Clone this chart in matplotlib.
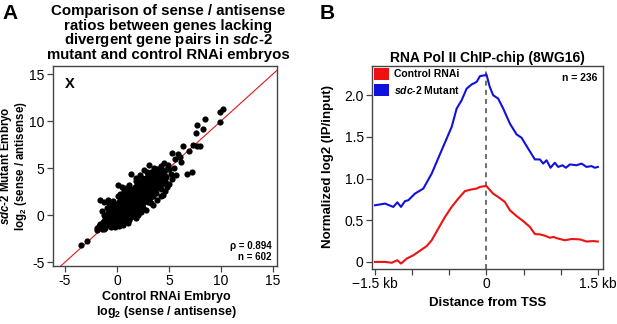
import matplotlib
matplotlib.use('Agg')
import matplotlib.pyplot as plt
from matplotlib.patches import Patch

plt.rcParams['font.family'] = ['Liberation Sans', 'DejaVu Sans']
plt.rcParams['mathtext.fontset'] = 'custom'
plt.rcParams['mathtext.rm'] = 'Liberation Sans:bold'
plt.rcParams['mathtext.it'] = 'Liberation Sans:bold:italic'
plt.rcParams['mathtext.bf'] = 'Liberation Sans:bold'

# panel A: log2(sense/antisense), control RNAi (x) vs sdc-2 mutant (y)
core_points = [
    (-1.1, -1.35), (-0.6, -1.25),
    (-1.5, -1.0), (-1.0, -1.05), (-0.7, -0.95), (-0.3, -1.0), (0.2, -1.1),
    (-1.3, -0.75), (-0.9, -0.85), (-0.5, -0.8), (-0.1, -0.7), (0.4, -0.85),
    (-1.2, -0.6), (-0.8, -0.55), (-0.4, -0.65), (0.0, -0.55), (0.3, -0.6), (0.8, -0.5),
    (-1.0, -0.4), (-0.6, -0.35), (-0.2, -0.45), (0.1, -0.35), (0.5, -0.4), (0.9, -0.3),
    (-1.1, -0.2), (-0.7, -0.15), (-0.3, -0.25), (0.0, -0.15), (0.3, -0.2), (0.6, -0.1), (1.0, -0.2), (1.4, -0.15),
    (-1.2, 0.0), (-0.8, 0.05), (-0.4, -0.05), (-0.1, 0.1), (0.2, 0.0), (0.5, 0.05), (0.8, -0.05), (1.1, 0.1), (1.5, 0.0),
    (-0.9, 0.2), (-0.5, 0.25), (-0.2, 0.15), (0.1, 0.3), (0.4, 0.2), (0.7, 0.25), (1.0, 0.15), (1.3, 0.3), (1.7, 0.2),
    (-0.7, 0.4), (-0.3, 0.45), (0.0, 0.35), (0.3, 0.5), (0.6, 0.4), (0.9, 0.45), (1.2, 0.35), (1.6, 0.5), (2.0, 0.4),
    (-0.6, 0.6), (-0.2, 0.65), (0.2, 0.55), (0.5, 0.7), (0.8, 0.6), (1.1, 0.65), (1.4, 0.55), (1.8, 0.7),
    (-0.4, 0.8), (0.0, 0.85), (0.3, 0.75), (0.6, 0.9), (0.9, 0.8), (1.2, 0.85), (1.5, 0.75), (1.9, 0.9), (2.3, 0.8),
    (-0.5, 1.0), (-0.1, 1.05), (0.3, 0.95), (0.7, 1.1), (1.0, 1.0), (1.3, 1.05), (1.6, 0.95), (2.0, 1.1), (2.4, 1.0),
    (0.0, 1.2), (0.4, 1.25), (0.8, 1.15), (1.1, 1.3), (1.4, 1.2), (1.7, 1.25), (2.1, 1.15), (2.5, 1.3),
    (0.2, 1.4), (0.5, 1.45), (0.9, 1.35), (1.2, 1.5), (1.5, 1.4), (1.8, 1.45), (2.2, 1.35), (2.6, 1.5), (3.0, 1.4),
    (0.3, 1.6), (0.7, 1.65), (1.0, 1.55), (1.3, 1.7), (1.6, 1.6), (1.9, 1.65), (2.3, 1.55), (2.7, 1.7),
    (0.5, 1.8), (0.9, 1.85), (1.2, 1.75), (1.5, 1.9), (1.8, 1.8), (2.1, 1.85), (2.4, 1.75), (2.8, 1.9), (3.2, 1.8),
    (0.6, 2.0), (1.0, 2.05), (1.4, 1.95), (1.7, 2.1), (2.0, 2.0), (2.3, 2.05), (2.6, 1.95), (3.0, 2.1), (3.5, 2.0),
    (0.9, 2.2), (1.2, 2.25), (1.6, 2.15), (1.9, 2.3), (2.2, 2.2), (2.5, 2.25), (2.8, 2.15), (3.2, 2.3),
    (1.0, 2.4), (1.4, 2.45), (1.8, 2.35), (2.1, 2.5), (2.4, 2.4), (2.7, 2.45), (3.0, 2.35), (3.4, 2.5), (3.8, 2.4),
    (1.3, 2.6), (1.6, 2.65), (2.0, 2.55), (2.3, 2.7), (2.6, 2.6), (2.9, 2.65), (3.2, 2.55), (3.6, 2.7),
    (1.4, 2.8), (1.8, 2.85), (2.2, 2.75), (2.5, 2.9), (2.8, 2.8), (3.1, 2.85), (3.4, 2.75), (3.8, 2.9), (4.2, 2.8),
    (1.7, 3.0), (2.0, 3.05), (2.4, 2.95), (2.7, 3.1), (3.0, 3.0), (3.3, 3.05), (3.6, 2.95), (4.0, 3.1),
    (1.9, 3.2), (2.3, 3.25), (2.6, 3.15), (2.9, 3.3), (3.2, 3.2), (3.5, 3.25), (3.9, 3.15), (4.3, 3.3),
    (2.1, 3.4), (2.5, 3.45), (2.8, 3.35), (3.1, 3.5), (3.4, 3.4), (3.8, 3.45), (4.2, 3.35),
    (2.3, 3.6), (2.7, 3.65), (3.0, 3.55), (3.3, 3.7), (3.7, 3.6), (4.1, 3.65), (4.5, 3.55),
    (2.6, 3.8), (3.0, 3.85), (3.3, 3.75), (3.6, 3.9), (4.0, 3.8), (4.4, 3.85),
    (2.8, 4.0), (3.2, 4.05), (3.5, 3.95), (3.9, 4.1), (4.3, 4.0), (4.7, 4.05),
    (3.0, 4.3), (3.4, 4.25), (3.8, 4.35), (4.2, 4.3), (4.6, 4.2),
    (3.3, 4.6), (3.7, 4.55), (4.1, 4.65), (4.5, 4.6),
    (3.8, 4.9), (4.3, 4.85), (4.8, 4.95),
]
edge_points = [
    (-1.7, -1.2), (-1.4, -1.5), (-1.2, -1.5), (-0.2, -1.3), (0.6, -1.0), (1.2, -0.5),
    (1.8, -0.3), (2.3, 0.3), (2.8, 0.6), (3.5, 1.1), (3.9, 1.6), (4.2, 2.0),
    (4.6, 2.6), (5.0, 3.3), (5.2, 4.4), (5.5, 5.0), (4.9, 5.3), (4.2, 5.2),
    (3.6, 5.0), (2.9, 4.6), (2.4, 4.0), (1.8, 3.6), (1.2, 3.2), (0.7, 2.6),
    (0.1, 2.0), (-0.4, 1.5), (-1.0, 0.8), (-0.9, 1.6), (0.5, 3.0), (1.8, 4.0),
]
sparse_points = [
    (-3.5, -3.2), (-2.9, -2.75), (-1.9, -1.6), (-1.9, -1.35), (-1.6, -0.9), (-1.4, 0.5),
    (-1.25, 1.4), (-1.6, 1.65), (-0.8, 1.2), (0.1, 3.2), (1.4, 4.4), (1.1, -0.85),
    (0.3, 2.3), (0.9, 2.9), (2.2, 4.3), (2.6, 4.8), (3.1, 5.3), (4.0, 4.9), (4.5, 5.6),
    (5.0, 4.9), (5.3, 6.6), (5.9, 6.55), (5.6, 6.0), (6.1, 6.2), (6.2, 5.7), (5.3, 3.9),
    (5.7, 4.3), (4.6, 3.6), (6.7, 4.4), (7.2, 4.6), (6.4, 7.35), (6.95, 6.85), (7.3, 7.5),
    (8.0, 7.35), (7.7, 7.35), (7.6, 8.7), (7.7, 9.55), (8.5, 10.2), (8.3, 9.2),
    (9.9, 9.95), (9.9, 11.0), (10.2, 11.3), (2.0, 0.0), (2.5, 0.8), (3.3, 1.3),
    (4.4, 2.2), (4.8, 3.0),
]
rho_text = 'ρ = 0.894'
n_scatter_text = 'n = 602'
scatter_ticks = [-5, 0, 5, 10, 15]
title_a_lines = ['Comparison of sense / antisense',
                 'ratios between genes lacking',
                 'divergent gene pairs in $\\mathit{sdc}$-$\\mathit{2}$',
                 'mutant and control RNAi embryos']

# panel B: Pol II ChIP-chip profiles around the TSS (bp, log2 IP/input)
control_pos = [-1500, -1365, -1275, -1200, -1150, -1073, -984, -894, -804, -737,
               -648, -558, -468, -379, -289, -199, -132, -87, -20, 0,
               89, 158, 248, 316, 406, 495, 585, 652, 720, 787,
               854, 899, 966, 1057, 1147, 1260, 1348, 1437, 1500]
control_vals = [0.0, 0.0, -0.01, 0.02, -0.02, 0.04, 0.08, 0.135, 0.19, 0.26,
                0.40, 0.54, 0.66, 0.76, 0.85, 0.87, 0.88, 0.90, 0.91, 0.91,
                0.82, 0.78, 0.72, 0.62, 0.55, 0.49, 0.42, 0.335, 0.33, 0.315,
                0.29, 0.30, 0.28, 0.26, 0.275, 0.27, 0.245, 0.25, 0.245]
mutant_pos = [-1500, -1365, -1254, -1200, -1150, -1096, -1052, -962, -850, -737,
              -603, -468, -401, -334, -266, -199, -132, -87, -20, 0,
              45, 91, 158, 226, 316, 406, 473, 562, 652, 720,
              764, 810, 863, 921, 966, 1025, 1070, 1124, 1213, 1281,
              1348, 1415, 1460, 1500]
mutant_vals = [0.68, 0.70, 0.66, 0.715, 0.66, 0.73, 0.74, 0.82, 0.88, 1.06,
               1.34, 1.62, 1.84, 1.94, 2.08, 2.13, 2.16, 2.23, 2.24, 2.25,
               2.10, 2.00, 1.96, 1.84, 1.66, 1.53, 1.49, 1.36, 1.23, 1.23,
               1.18, 1.22, 1.13, 1.19, 1.14, 1.16, 1.13, 1.17, 1.16, 1.18,
               1.14, 1.15, 1.13, 1.14]
profile_xticks = [-1500, -1000, -500, 0, 500, 1000, 1500]
profile_xlabels = ['\u22121.5 kb', '', '', '0', '', '', '1.5 kb']
profile_yticks = [0, 0.5, 1.0, 1.5, 2.0]
profile_ylabels = ['0', '0.5', '1.0', '1.5', '2.0']

SPINE = '#444444'
W, H = 617, 324


def style_axes(ax):
    for sp in ax.spines.values():
        sp.set_color(SPINE)
        sp.set_linewidth(1.0)
    ax.tick_params(direction='out', length=4, width=0.9, color=SPINE,
                   labelsize=10, pad=2)


def px_text(x, y, s, **kw):
    # place a figure text by pixel position from the top-left corner
    return fig.text(x / W, 1 - y / H, s, **kw)


fig = plt.figure(figsize=(6.17, 3.24), dpi=100)

# ---- panel A ----
ax_a = fig.add_axes([0.0859, 0.179, 0.363, 0.617])
pts = core_points + edge_points + sparse_points
xs = [p[0] for p in pts]
ys = [p[1] for p in pts]
ax_a.plot([-7, 17], [-7, 17], color='#e8141c', linewidth=0.8, zorder=1)
ax_a.scatter(xs, ys, s=20, color='black', linewidths=0, zorder=2)
ax_a.set_xlim(-6.15, 15.4)
ax_a.set_ylim(-5.4, 15.85)
ax_a.set_xticks(scatter_ticks)
ax_a.set_yticks(scatter_ticks)
ax_a.set_xticklabels([str(t) for t in scatter_ticks])
ax_a.set_yticklabels([str(t) for t in scatter_ticks])
style_axes(ax_a)
ax_a.text(12 / 224, 1 - 11 / 200, 'X', transform=ax_a.transAxes, fontsize=10.5,
          fontweight='bold', ha='left', va='top')
ax_a.text(0.975, 0.10, rho_text, transform=ax_a.transAxes, fontsize=7,
          fontweight='bold', ha='right', va='center')
ax_a.text(0.975, 0.045, n_scatter_text, transform=ax_a.transAxes, fontsize=7,
          fontweight='bold', ha='right', va='center')

# axis labels of A placed by hand (two lines each)
px_text(166, 297, 'Control RNAi Embryo', fontsize=9, fontweight='bold',
        ha='center', va='center')
px_text(166, 312, 'log$_2$ (sense / antisense)', fontsize=9, fontweight='bold',
        ha='center', va='center')
px_text(6.5, 166, '$\\mathit{sdc}$-$\\mathit{2}$ Mutant Embryo', fontsize=8.3,
        fontweight='bold', ha='center', va='center', rotation=90)
px_text(21.5, 166, 'log$_2$ (sense / antisense)', fontsize=8.3, fontweight='bold',
        ha='center', va='center', rotation=90)

for i, line in enumerate(title_a_lines):
    px_text(168, 11 + 14.7 * i, line, fontsize=10.8, fontweight='bold',
            ha='center', va='center')
px_text(2, 4, 'A', fontsize=15, fontweight='bold', ha='left', va='top')

# ---- panel B ----
ax_b = fig.add_axes([0.603, 0.170, 0.374, 0.626])
ax_b.plot(control_pos, control_vals, color='#ee1111', linewidth=1.5)
ax_b.plot(mutant_pos, mutant_vals, color='#1111dd', linewidth=1.5)
ax_b.axvline(0, color='#555555', linestyle=(0, (3, 2.5)), linewidth=1.2, zorder=0)
ax_b.set_xlim(-1540, 1567)
ax_b.set_ylim(-0.084, 2.35)
ax_b.set_xticks(profile_xticks)
ax_b.set_xticklabels(profile_xlabels)
ax_b.set_yticks(profile_yticks)
ax_b.set_yticklabels(profile_ylabels)
style_axes(ax_b)
ax_b.set_xlabel('Distance from TSS', fontsize=9.5, fontweight='bold', labelpad=4)
px_text(328, 166, 'Normalized log2 (IP/input)', fontsize=9.5, fontweight='bold',
        ha='center', va='center', rotation=90)
ax_b.set_title('RNA Pol II ChIP-chip (8WG16)', fontsize=10, fontweight='bold', pad=3)
handles = [Patch(facecolor='#ee1111', edgecolor='none'),
           Patch(facecolor='#1111dd', edgecolor='none')]
ax_b.legend(handles, ['Control RNAi', '$\\mathit{sdc}$-$\\mathit{2}$ Mutant'],
            loc='upper left', frameon=False, prop={'weight': 'bold', 'size': 7.5},
            handlelength=1.45, handleheight=1.4, handletextpad=0.5,
            labelspacing=0.4, borderaxespad=0.1, borderpad=0.05)
ax_b.text(0.975, 0.94, 'n = 236', transform=ax_b.transAxes, fontsize=7.5,
          fontweight='bold', ha='right', va='center')
px_text(320, 4, 'B', fontsize=15, fontweight='bold', ha='left', va='top')

fig.savefig('out.png', dpi=100)
